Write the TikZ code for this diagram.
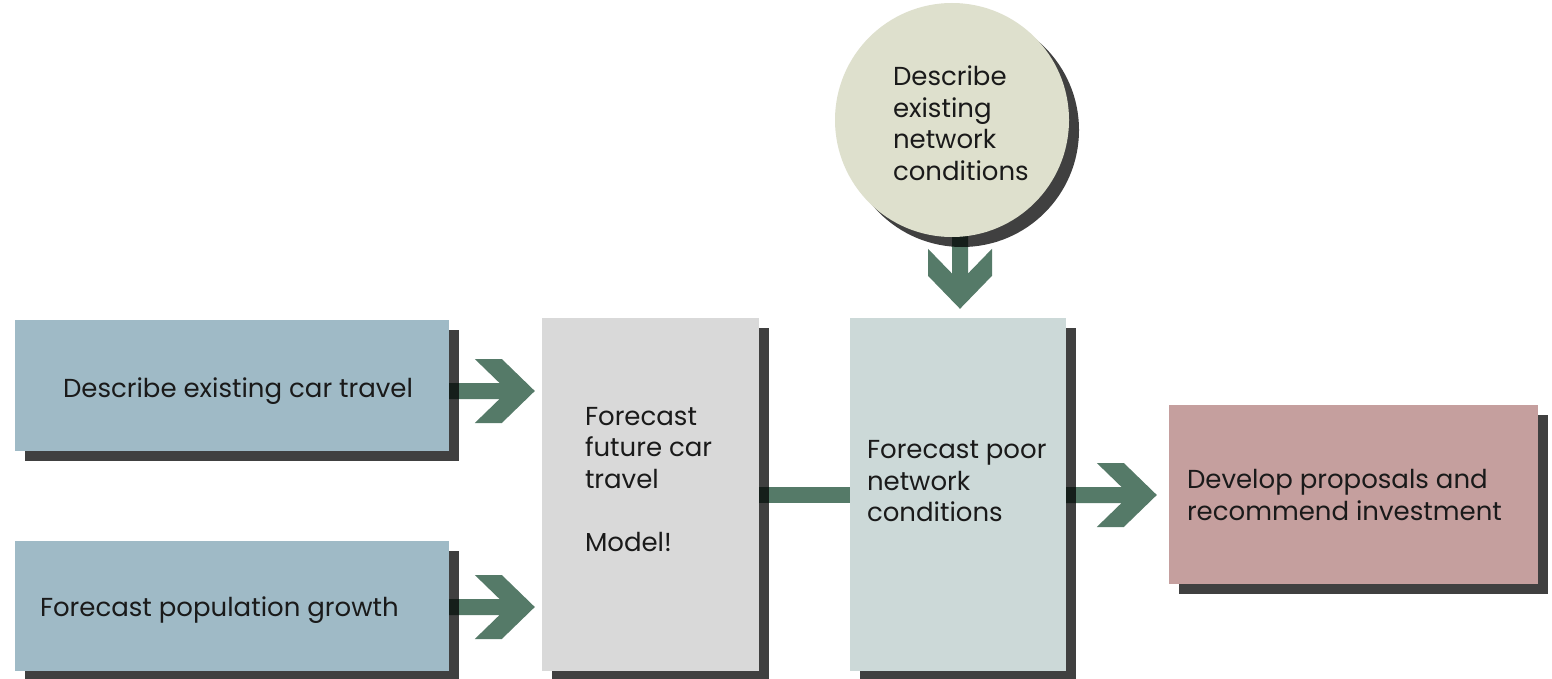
\documentclass[tikz,border=0pt]{standalone}
\usepackage{fontspec}
\setmainfont{Poppins}
\usetikzlibrary{calc,shadows}
\pgfdeclarelayer{back}
\pgfdeclarelayer{bg}
\pgfsetlayers{back,bg,main}
\definecolor{boxblue}{RGB}{159,186,198}
\definecolor{boxgrey}{RGB}{217,217,217}
\definecolor{boxsage}{RGB}{204,217,216}
\definecolor{boxrose}{RGB}{197,159,158}
\definecolor{circfill}{RGB}{222,224,205}
\definecolor{arrowc}{RGB}{85,122,104}
\definecolor{txtc}{RGB}{26,26,26}
\newcommand{\ChevRight}[2]{%
  \fill[arrowc] let \p1=(#1), \p2=(#2) in
  (\x1,\y2+8pt) -- (\x2-35.25pt,\y2+8pt) -- (\x2-60pt,\y2+32pt) -- (\x2-33pt,\y2+32pt)
  -- (\x2,\y2) -- (\x2-33pt,\y2-32pt) -- (\x2-60pt,\y2-32pt) -- (\x2-35.25pt,\y2-8pt)
  -- (\x1,\y2-8pt) -- cycle;}
\newcommand{\ChevDown}[2]{%
  \fill[arrowc] let \p1=(#1), \p2=(#2) in
  (\x2-8pt,\y1) -- (\x2-8pt,\y2+35.25pt) -- (\x2-32pt,\y2+60pt) -- (\x2-32pt,\y2+33pt)
  -- (\x2,\y2) -- (\x2+32pt,\y2+33pt) -- (\x2+32pt,\y2+60pt) -- (\x2+8pt,\y2+35.25pt)
  -- (\x2+8pt,\y1) -- cycle;}
\tikzset{
  shadowed/.style={draw=none, inner sep=0pt,
    drop shadow={shadow xshift=10pt, shadow yshift=-10pt, fill=black, opacity=0.75}},
  boxshape/.style={rectangle, shadowed},
  circshape/.style={circle, shadowed},
  txt/.style={text=txtc, align=left, inner sep=0pt,
    font=\fontsize{26pt}{31.5pt}\selectfont},
}
\begin{document}
\begin{tikzpicture}[x=1pt,y=-1pt]
\begin{pgfonlayer}{back}
\fill[white] (0,0) rectangle (1552,679);
\end{pgfonlayer}
\useasboundingbox (0,0) rectangle (1552,679);
% boxes
\node[boxshape, fill=boxblue, minimum width=434pt, minimum height=131pt] (a) at (232,385.5) {};
\node[boxshape, fill=boxblue, minimum width=434pt, minimum height=130pt] (b) at (232,606) {};
\node[boxshape, fill=boxgrey, minimum width=217pt, minimum height=353pt] (c) at (650.5,494.5) {};
\node[boxshape, fill=boxsage, minimum width=216pt, minimum height=353pt] (d) at (958,494.5) {};
\node[boxshape, fill=boxrose, minimum width=369pt, minimum height=179pt] (e) at (1353.5,494.5) {};
\node[circshape, fill=circfill, minimum size=234pt] (f) at (952,120) {};
% texts
\node[txt, anchor=west] (ta) at ($(a.west)+(48,5.5)$) {Describe existing car travel};
\node[txt, anchor=west] (tb) at ($(b.west)+(25,4)$) {Forecast population growth};
\node[txt, anchor=west] (tc) at ($(c.west)+(43,-15)$) {Forecast\\future car\\travel\\[31.5pt]Model!};
\node[txt, anchor=west] (td) at ($(d.west)+(17,-13)$) {Forecast poor\\network\\conditions};
\node[txt, anchor=west] (te) at ($(e.west)+(18,0.5)$) {Develop proposals and\\recommend investment};
\node[txt, anchor=west] (tf) at ($(f.west)+(58,3)$) {Describe\\existing\\network\\conditions};
% connectors
\begin{pgfonlayer}{bg}
\ChevRight{$(a.east)+(-20,5.5)$}{$(a.east -| c.west)+(-7,5.5)$}
\ChevRight{$(b.east)+(-20,1)$}{$(b.east -| c.west)+(-7,1)$}
\ChevDown{$(f.center)+(8,0)$}{$(d.north)+(2,-9)$}
\draw[arrowc, line width=16pt] ($(c.east)+(-5,0)$) -- (c.east -| d.west);
\ChevRight{$(d.east)+(-20,0.5)$}{$(e.west)+(-12,0.5)$}
\end{pgfonlayer}
\end{tikzpicture}
\end{document}
